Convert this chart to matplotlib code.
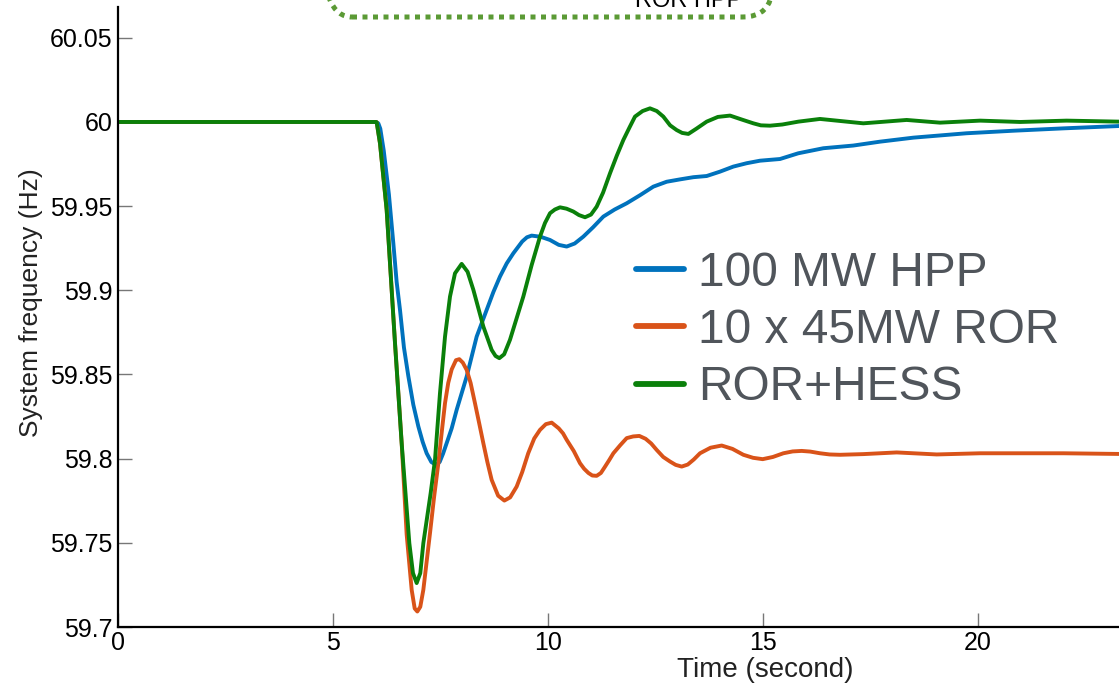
import matplotlib
matplotlib.use("Agg")
import matplotlib.pyplot as plt
from matplotlib.patches import FancyBboxPatch

plt.rcParams["font.family"] = ["Liberation Sans", "DejaVu Sans"]

# 100 MW HPP (blue)
t_hpp = [0, 6.0, 6.054, 6.10, 6.18, 6.30, 6.403, 6.48, 6.558, 6.65, 6.752, 6.868,
         6.985, 7.085, 7.178, 7.287, 7.395, 7.48, 7.56, 7.643, 7.76, 7.876, 8.109,
         8.341, 8.574, 8.73, 8.884, 9.04, 9.194, 9.40, 9.51, 9.62, 9.83, 10.047,
         10.25, 10.434, 10.62, 10.822, 11.05, 11.287, 11.55, 11.83, 12.14, 12.45,
         12.76, 13.07, 13.38, 13.69, 14.0, 14.31, 14.62, 14.93, 15.395, 15.82,
         16.403, 17.1, 17.72, 18.5, 19.736, 20.82, 21.98, 23.28, 23.6]
f_hpp = [60.0, 60.0, 59.9992, 59.996, 59.983, 59.957, 59.928, 59.905, 59.8884,
         59.866, 59.849, 59.832, 59.8191, 59.810, 59.8032, 59.798, 59.7963,
         59.798, 59.803, 59.8092, 59.818, 59.829, 59.8488, 59.8725, 59.8884,
         59.899, 59.9082, 59.916, 59.922, 59.929, 59.9315, 59.9325, 59.9318,
         59.9299, 59.927, 59.926, 59.9278, 59.9319, 59.9375, 59.9438, 59.948,
         59.9517, 59.9565, 59.9616, 59.9645, 59.9659, 59.9672, 59.9679, 59.9705,
         59.9735, 59.9755, 59.977, 59.978, 59.9814, 59.9844, 59.986, 59.9883,
         59.9907, 59.9933, 59.9948, 59.9962, 59.9976, 59.998]

# 10 x 45MW ROR (orange)
t_ror = [0, 6.0, 6.016, 6.093, 6.248, 6.442, 6.597, 6.713, 6.83, 6.90, 6.961, 7.03,
         7.101, 7.256, 7.35, 7.45, 7.53, 7.605, 7.68, 7.76, 7.86, 7.938, 8.02,
         8.109, 8.2, 8.302, 8.4, 8.496, 8.59, 8.69, 8.84, 8.985, 9.12, 9.271, 9.4,
         9.54, 9.68, 9.814, 9.95, 10.086, 10.25, 10.35, 10.434, 10.6, 10.744, 10.84,
         10.94, 11.03, 11.132, 11.23, 11.32, 11.42, 11.52, 11.68, 11.83, 11.98,
         12.124, 12.27, 12.4, 12.527, 12.68, 12.837, 12.97, 13.109, 13.25, 13.39,
         13.535, 13.78, 14.039, 14.29, 14.543, 14.77, 14.993, 15.23, 15.473, 15.69,
         15.9, 16.1, 16.326, 16.55, 16.791, 17.33, 18.109, 19.04, 20.05, 21.98,
         23.28, 23.6]
f_ror = [60.0, 60.0, 59.9998, 59.9873, 59.9478, 59.8686, 59.8092, 59.755, 59.722,
         59.711, 59.7092, 59.712, 59.7221, 59.7558, 59.777, 59.7973, 59.816,
         59.833, 59.845, 59.853, 59.8585, 59.8591, 59.857, 59.8527, 59.845,
         59.8329, 59.821, 59.8092, 59.798, 59.7874, 59.778, 59.7751, 59.777,
         59.7834, 59.792, 59.8032, 59.812, 59.8171, 59.8205, 59.8214, 59.818,
         59.815, 59.8112, 59.8045, 59.7973, 59.794, 59.7915, 59.790, 59.7898,
         59.7915, 59.795, 59.799, 59.8032, 59.808, 59.8122, 59.8132, 59.8135,
         59.8118, 59.809, 59.8052, 59.801, 59.7983, 59.7963, 59.7953, 59.7965,
         59.7995, 59.8032, 59.8065, 59.8078, 59.8058, 59.8023, 59.8005, 59.7997,
         59.801, 59.8032, 59.8043, 59.8046, 59.8042, 59.8032, 59.8025, 59.8023,
         59.8027, 59.8037, 59.8025, 59.8032, 59.8032, 59.8028, 59.8028]

# ROR+HESS (green)
t_hess = [0, 6.0, 6.016, 6.093, 6.248, 6.442, 6.597, 6.775, 6.86, 6.946, 7.03,
          7.101, 7.271, 7.372, 7.488, 7.605, 7.721, 7.837, 7.992, 8.13, 8.264,
          8.496, 8.69, 8.78, 8.868, 8.98, 9.116, 9.426, 9.62, 9.814, 9.93, 10.047,
          10.16, 10.279, 10.43, 10.589, 10.72, 10.861, 11.0, 11.132, 11.28, 11.442,
          11.6, 11.752, 11.9, 12.023, 12.2, 12.372, 12.53, 12.682, 12.84, 12.992,
          13.12, 13.264, 13.45, 13.69, 13.95, 14.233, 14.5, 14.775, 14.95, 15.163,
          15.45, 15.822, 16.325, 17.333, 18.341, 19.116, 20.05, 20.98, 22.06, 23.28,
          23.6]
f_hess = [60.0, 60.0, 59.9998, 59.9873, 59.9478, 59.8686, 59.8092, 59.7498, 59.732,
          59.7261, 59.732, 59.7498, 59.7795, 59.7993, 59.8389, 59.8725, 59.8963,
          59.9101, 59.9157, 59.911, 59.9003, 59.8785, 59.8646, 59.861, 59.8597,
          59.862, 59.8706, 59.8963, 59.915, 59.9319, 59.940, 59.9458, 59.948,
          59.9493, 59.9485, 59.9468, 59.9447, 59.9434, 59.945, 59.9497, 59.958,
          59.9695, 59.980, 59.9893, 59.997, 60.0032, 60.0065, 60.0081, 60.0065,
          60.0032, 59.998, 59.9952, 59.9935, 59.9929, 59.996, 60.0002, 60.003,
          60.0038, 60.0015, 59.9992, 59.998, 59.9978, 59.9985, 60.0002, 60.0018,
          59.9992, 60.0012, 59.9996, 60.0008, 60.0, 60.0008, 60.0002, 60.0002]

series = [
    ("100 MW HPP", t_hpp, f_hpp, "#0072BD"),
    ("10 x 45MW ROR", t_ror, f_ror, "#D95319"),
    ("ROR+HESS", t_hess, f_hess, "#0A800A"),
]

x_ticks = [0, 5, 10, 15, 20]
y_ticks = [59.7, 59.75, 59.8, 59.85, 59.9, 59.95, 60.0, 60.05]

W, H = 1119, 687
fig = plt.figure(figsize=(W / 100, H / 100), dpi=100)
ax = fig.add_axes([118 / W, 60 / H, 1290 / W, 620 / H])

for label, t, f, color in series:
    ax.plot(t, f, color=color, lw=2.8, label=label,
            solid_joinstyle="round", solid_capstyle="round")

ax.set_xlim(0, 30)
ax.set_ylim(59.7, 60.0683)
ax.set_xticks(x_ticks)
ax.set_xticklabels([f"{v:g}" for v in x_ticks])
ax.set_yticks(y_ticks)
ax.set_yticklabels([f"{v:g}" for v in y_ticks])

for side in ("top", "right"):
    ax.spines[side].set_visible(False)
for side in ("left", "bottom"):
    ax.spines[side].set_linewidth(1.6)
    ax.spines[side].set_color("black")

ax.tick_params(axis="both", direction="in", length=10, width=1.0, color="#777777",
               labelsize=18, labelcolor="black")
ax.tick_params(axis="x", pad=3)
ax.tick_params(axis="y", pad=4)

ax.set_xlabel("Time (second)", fontsize=20, color="#222222")
ax.xaxis.set_label_coords((765 - 118) / 1290, -(657 - 627) / 620)
ax.set_ylabel("System frequency (Hz)", fontsize=19, color="#222222")
ax.yaxis.set_label_coords(-(75) / 1290, (627 - 303) / 620)

leg = ax.legend(loc="center left", bbox_to_anchor=(6.36, 3.565),
                bbox_transform=fig.dpi_scale_trans, frameon=False, fontsize=34.5,
                handlelength=1.0, handletextpad=0.3, labelspacing=0.26,
                borderpad=0, borderaxespad=0)
for line in leg.get_lines():
    line.set_linewidth(4.2)
for txt in leg.get_texts():
    txt.set_color("#50555B")

# dotted rounded annotation box at the top, mostly outside the view
box = FancyBboxPatch((3.22, 6.70), 4.50, 1.0,
                     boxstyle="round,pad=0,rounding_size=0.30",
                     transform=fig.dpi_scale_trans, fill=False,
                     edgecolor="#5B9A35", linewidth=3.6,
                     linestyle=(0, (1, 1.1)), clip_on=False)
fig.patches.append(box)
fig.text(6.89, 6.80, "ROR HPP", transform=fig.dpi_scale_trans, fontsize=17,
         ha="center", va="baseline", color="black")

fig.savefig("out.png", dpi=100)
